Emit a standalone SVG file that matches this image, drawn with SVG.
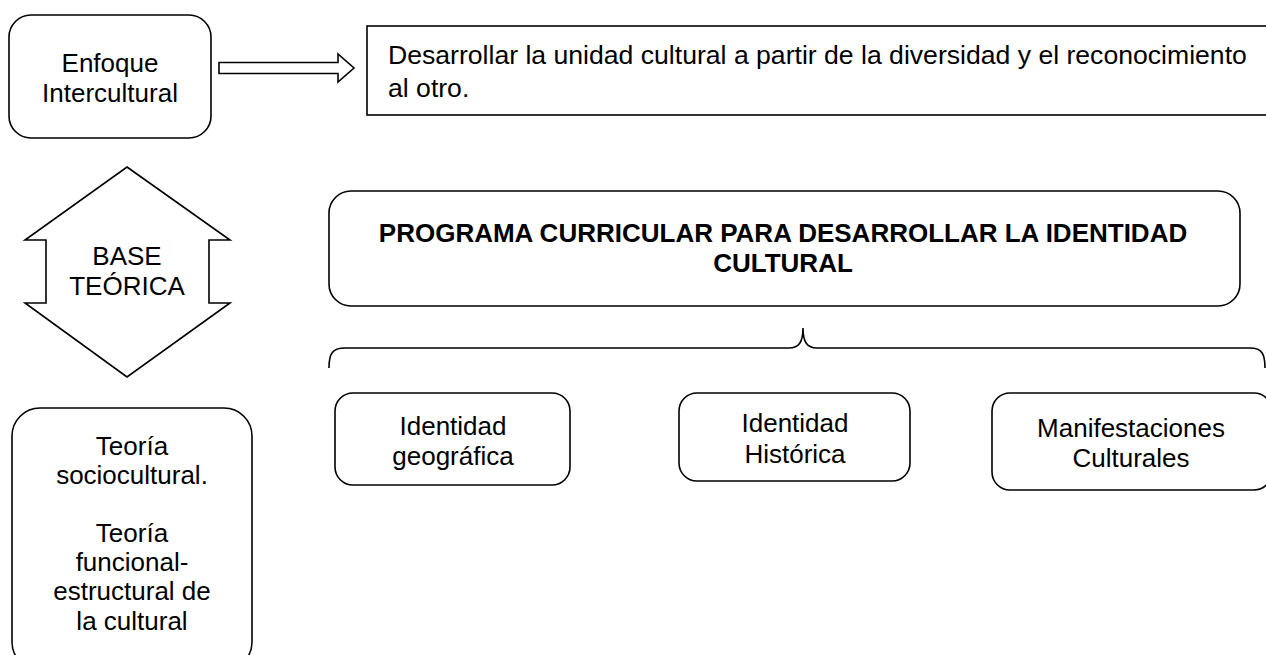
<svg xmlns="http://www.w3.org/2000/svg" width="1266" height="655" viewBox="0 0 1266 655">
<style>
.box{fill:#fff;stroke:#000;stroke-width:1.6}
.line{fill:none;stroke:#000;stroke-width:1.6}
.t{font-family:"Liberation Sans",Arial,sans-serif;font-size:26px;fill:#000;text-anchor:middle}
.tl{font-family:"Liberation Sans",Arial,sans-serif;font-size:26.6px;fill:#000}
.tb{font-family:"Liberation Sans",Arial,sans-serif;font-size:26px;font-weight:bold;fill:#000;text-anchor:middle}
</style>
<rect width="1266" height="655" fill="#fff"/>
<g id="enfoque">
<rect class="box" x="9" y="15" width="202" height="123" rx="22"/>
<text class="t" x="110" y="72">Enfoque</text>
<text class="t" x="110" y="102">Intercultural</text>
</g>
<g id="desarrollar">
<rect class="box" x="367" y="26" width="920" height="89"/>
<text class="tl" x="388" y="64">Desarrollar la unidad cultural a partir de la diversidad y el reconocimiento</text>
<text class="tl" x="388" y="97">al otro.</text>
</g>
<g id="base">
<polygon class="box" points="127,167 230,240 209,240 209,303 230,303 127,377 25,303 46,303 46,240 25,240"/>
<text class="t" x="127" y="265">BASE</text>
<text class="t" x="127" y="295">TEÓRICA</text>
</g>
<g id="programa">
<rect class="box" x="329" y="191" width="911" height="115" rx="22"/>
<text class="tb" x="783" y="242">PROGRAMA CURRICULAR PARA DESARROLLAR LA IDENTIDAD</text>
<text class="tb" x="783" y="272">CULTURAL</text>
</g>
<g id="geografica">
<rect class="box" x="335" y="393" width="235" height="92" rx="18"/>
<text class="t" x="453" y="435">Identidad</text>
<text class="t" x="453" y="465">geográfica</text>
</g>
<g id="historica">
<rect class="box" x="679" y="393" width="231" height="88" rx="18"/>
<text class="t" x="795" y="432">Identidad</text>
<text class="t" x="795" y="463">Histórica</text>
</g>
<g id="manifestaciones">
<rect class="box" x="992" y="393" width="280" height="97" rx="18"/>
<text class="t" x="1131" y="437">Manifestaciones</text>
<text class="t" x="1131" y="467">Culturales</text>
</g>
<g id="teorias">
<rect class="box" x="12" y="408" width="240" height="262" rx="28"/>
<text class="t" x="132" y="455">Teoría</text>
<text class="t" x="132" y="484">sociocultural.</text>
<text class="t" x="132" y="542">Teoría</text>
<text class="t" x="132" y="571">funcional-</text>
<text class="t" x="132" y="600">estructural de</text>
<text class="t" x="132" y="630">la cultural</text>
</g>
<g id="connectors">
<polygon class="box" points="219,62.5 338,62.5 338,54 354,68 338,82 338,73.5 219,73.5"/>
<path class="line" d="M329,368 C329,354 332,348 345,348 L789,348 C799,348 803,342 803,328 C803,342 807,348 817,348 L1250,348 C1262,348 1265,354 1265,368"/>
</g>
</svg>
